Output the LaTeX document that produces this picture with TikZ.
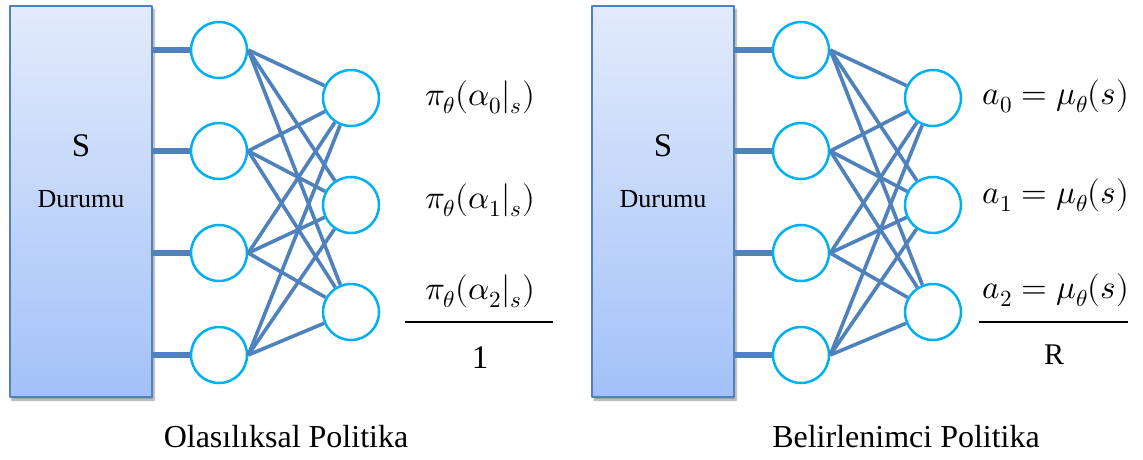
\documentclass[tikz,border=0pt]{standalone}
\usepackage{fontspec}
\usepackage{unicode-math}
\setmainfont{Liberation Serif}
\setmathfont{Latin Modern Math}
\usetikzlibrary{shadows.blur}

\definecolor{linkblue}{HTML}{4F81BD}
\definecolor{nodecyan}{HTML}{00B0F0}
\definecolor{boxtop}{HTML}{E2EBFC}
\definecolor{boxbot}{HTML}{A3C1F8}

\begin{document}
\begin{tikzpicture}[x=1pt,y=-1pt,line join=round]
	\tikzset{statebox/.style={draw=linkblue,line width=1.5pt,top color=boxtop,bottom color=boxbot,
			minimum width=142pt,minimum height=391pt,inner sep=0pt,
			blur shadow={shadow xshift=2pt,shadow yshift=-3pt,shadow blur steps=6}},
		neuron/.style={circle,draw=nodecyan,fill=white,line width=2.5pt,minimum size=56pt,inner sep=0pt},
		stub/.style={linkblue,line width=6pt},
		link/.style={linkblue,line width=3.6pt},
		lbl/.style={font=\fontsize{33}{36}\selectfont},
		captext/.style={font=\fontsize{32}{36}\selectfont}}
	\useasboundingbox (0,0) rectangle (1143,459);
	% two networks: left one shifted 0, right one 582
	\foreach \p/\dx in {L/0,R/582}{
		\node[statebox] (box\p) at (81+\dx,201.5) {};
		\node[font=\fontsize{33}{36}\selectfont] (s\p) at (81+\dx,146) {S};
		\node[font=\fontsize{26}{30}\selectfont] (dur\p) at (81+\dx,199) {Durumu};
		\foreach \i/\y in {1/50,2/151,3/253,4/355}
		\node[neuron] (in\p\i) at (219+\dx,\y) {};
		\foreach \j/\y in {1/98,2/205,3/312}
		\node[neuron] (out\p\j) at (351+\dx,\y) {};
		\foreach \i in {1,...,4}{
			\draw[stub] (box\p.east |- in\p\i) -- (in\p\i.west);
			\foreach \j in {1,2,3}
			\draw[link] (in\p\i.east) -- (out\p\j);
		}
	}
	% outputs of the stochastic policy
	\node[lbl] (piA) at (480,97) {$\pi_\theta(\alpha_0|_s)$};
	\node[lbl] (piB) at (480,200) {$\pi_\theta(\alpha_1|_s)$};
	\node[lbl] (piC) at (480,291) {$\pi_\theta(\alpha_2|_s)$};
	\coordinate (barL1) at (405,322);
	\coordinate (barL2) at (553,322);
	\draw[line width=1.2pt] (barL1) -- (barL2);
	\node[lbl] (one) at (480,358) {1};
	% outputs of the deterministic policy
	\node[lbl] (muA) at (1056,96) {$a_0=\mu_\theta(s)$};
	\node[lbl] (muB) at (1056,195) {$a_1=\mu_\theta(s)$};
	\node[lbl] (muC) at (1056,290) {$a_2=\mu_\theta(s)$};
	\coordinate (barR1) at (979,322);
	\coordinate (barR2) at (1128,322);
	\draw[line width=1.2pt] (barR1) -- (barR2);
	\node[font=\fontsize{30}{30}\selectfont] (rr) at (1054,355) {R};
	% captions
	\node[captext] (capL) at (286,437) {Olasılıksal Politika};
	\node[captext] (capR) at (906,437) {Belirlenimci Politika};
\end{tikzpicture}
\end{document}
